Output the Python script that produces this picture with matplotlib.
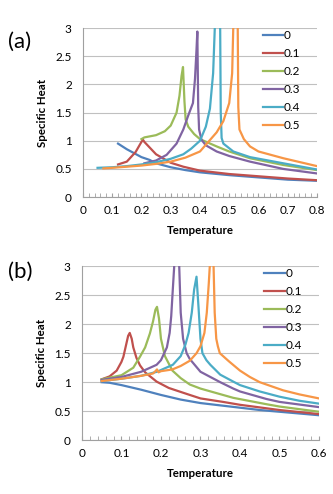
import matplotlib
matplotlib.use("Agg")
import matplotlib.pyplot as plt
from matplotlib.ticker import MultipleLocator

plt.rcParams["font.family"] = ["Lato", "DejaVu Sans"]

LABELS = ["0", "0.1", "0.2", "0.3", "0.4", "0.5"]
COLORS = ["#4F81BD", "#C0504D", "#9BBB59", "#8064A2", "#4BACC6", "#F79646"]

# ---- panel (a) ----
a_T0 = [0.12, 0.15, 0.2, 0.228, 0.25, 0.3, 0.35, 0.4, 0.5, 0.6, 0.7, 0.8]
a_C0 = [0.95, 0.85, 0.71, 0.66, 0.6, 0.53, 0.48, 0.44, 0.39, 0.35, 0.31, 0.29]
a_T1 = [0.12, 0.15, 0.18, 0.2, 0.205, 0.21, 0.23, 0.25, 0.3, 0.343, 0.4, 0.5, 0.6, 0.7, 0.8]
a_C1 = [0.58, 0.63, 0.8, 0.98, 1.02, 0.98, 0.87, 0.76, 0.61, 0.54, 0.47, 0.41, 0.37, 0.33, 0.3]
a_T2 = [0.2, 0.21, 0.25, 0.28, 0.3, 0.32, 0.33, 0.337, 0.342, 0.347, 0.351, 0.36, 0.38,
        0.4, 0.457, 0.5, 0.571, 0.685, 0.8]
a_C2 = [1.03, 1.06, 1.1, 1.17, 1.27, 1.5, 1.8, 2.15, 2.31, 1.7, 1.38, 1.25, 1.12,
        1.03, 0.9, 0.81, 0.69, 0.57, 0.48]
a_T3 = [0.21, 0.25, 0.286, 0.32, 0.343, 0.36, 0.376, 0.383, 0.388, 0.391, 0.394, 0.397,
        0.405, 0.42, 0.457, 0.5, 0.571, 0.685, 0.8]
a_C3 = [0.6, 0.65, 0.75, 0.95, 1.2, 1.45, 1.67, 2.1, 2.6, 2.94, 1.6, 1.2,
        1.02, 0.92, 0.81, 0.73, 0.63, 0.5, 0.42]
a_T4 = [0.05, 0.1, 0.15, 0.2, 0.25, 0.3, 0.343, 0.37, 0.4, 0.42, 0.434, 0.445, 0.451,
        0.46, 0.469, 0.471, 0.474, 0.48, 0.514, 0.571, 0.685, 0.8]
a_C4 = [0.52, 0.53, 0.55, 0.58, 0.62, 0.68, 0.76, 0.86, 1.0, 1.25, 1.57, 2.2, 3.05,
        6.0, 3.05, 1.5, 1.05, 0.95, 0.81, 0.71, 0.6, 0.49]
a_T5 = [0.07, 0.1, 0.15, 0.2, 0.25, 0.3, 0.35, 0.4, 0.457, 0.48, 0.5, 0.51, 0.514, 0.52,
        0.529, 0.531, 0.535, 0.55, 0.571, 0.6, 0.685, 0.8]
a_C5 = [0.51, 0.52, 0.54, 0.56, 0.59, 0.63, 0.7, 0.81, 1.15, 1.35, 1.67, 2.2, 3.05, 6.0,
        3.05, 1.6, 1.2, 1.03, 0.9, 0.81, 0.69, 0.55]

# ---- panel (b) ----
b_T0 = [0.05, 0.07, 0.1, 0.15, 0.2, 0.25, 0.3, 0.35, 0.4, 0.45, 0.5, 0.55, 0.6]
b_C0 = [1.0, 0.99, 0.95, 0.87, 0.78, 0.7, 0.64, 0.6, 0.56, 0.52, 0.49, 0.46, 0.43]
b_T1 = [0.05, 0.07, 0.088, 0.1, 0.105, 0.112, 0.117, 0.121, 0.126, 0.13, 0.138, 0.147,
        0.16, 0.189, 0.22, 0.273, 0.3, 0.357, 0.4, 0.5, 0.6]
b_C1 = [1.05, 1.1, 1.2, 1.35, 1.44, 1.65, 1.8, 1.85, 1.75, 1.6, 1.42, 1.29,
        1.17, 1.01, 0.9, 0.78, 0.72, 0.66, 0.61, 0.52, 0.45]
b_T2 = [0.05, 0.1, 0.13, 0.147, 0.16, 0.172, 0.18, 0.186, 0.19, 0.195, 0.2, 0.21, 0.229,
        0.25, 0.273, 0.3, 0.357, 0.383, 0.467, 0.5, 0.6]
b_C2 = [1.05, 1.12, 1.25, 1.44, 1.6, 1.84, 2.05, 2.25, 2.3, 2.1, 1.75, 1.45, 1.2,
        1.07, 0.96, 0.89, 0.78, 0.73, 0.62, 0.58, 0.49]
b_T3 = [0.05, 0.1, 0.15, 0.189, 0.2, 0.215, 0.222, 0.226, 0.23, 0.234, 0.24, 0.246, 0.25,
        0.256, 0.265, 0.273, 0.3, 0.35, 0.383, 0.4, 0.467, 0.5, 0.6]
b_C3 = [1.04, 1.09, 1.18, 1.3, 1.38, 1.6, 1.85, 2.14, 2.6, 3.05, 6.0, 3.05, 2.2,
        1.75, 1.5, 1.4, 1.18, 1.0, 0.89, 0.84, 0.71, 0.66, 0.57]
b_T4 = [0.05, 0.1, 0.15, 0.19, 0.23, 0.25, 0.262, 0.27, 0.278, 0.284, 0.29, 0.295, 0.3,
        0.305, 0.315, 0.325, 0.35, 0.383, 0.4, 0.45, 0.5, 0.55, 0.6]
b_C4 = [1.02, 1.06, 1.11, 1.18, 1.3, 1.45, 1.65, 1.85, 2.2, 2.6, 2.82, 2.3, 1.75,
        1.5, 1.38, 1.3, 1.13, 1.01, 0.95, 0.84, 0.75, 0.68, 0.63]
b_T5 = [0.05, 0.1, 0.15, 0.18, 0.186, 0.19, 0.194, 0.2, 0.229, 0.25, 0.273, 0.29, 0.3,
        0.31, 0.316, 0.321, 0.324, 0.328, 0.333, 0.336, 0.34, 0.344, 0.349, 0.372, 0.4,
        0.425, 0.45, 0.509, 0.55, 0.6]
b_C5 = [1.02, 1.06, 1.11, 1.15, 1.19, 1.22, 1.17, 1.19, 1.22, 1.28, 1.37, 1.5, 1.62,
        1.85, 2.2, 2.7, 3.05, 6.0, 3.05, 2.2, 1.75, 1.62, 1.5, 1.36, 1.2,
        1.09, 1.0, 0.86, 0.79, 0.72]

panels = [
    ("(a)", [0.249, 0.601, 0.703, 0.342], 0.8, 0.915,
     [(a_T0, a_C0), (a_T1, a_C1), (a_T2, a_C2), (a_T3, a_C3), (a_T4, a_C4), (a_T5, a_C5)]),
    ("(b)", [0.246, 0.109, 0.712, 0.352], 0.6, 0.449,
     [(b_T0, b_C0), (b_T1, b_C1), (b_T2, b_C2), (b_T3, b_C3), (b_T4, b_C4), (b_T5, b_C5)]),
]

fig = plt.figure(figsize=(3.33, 4.94), dpi=100)

for tag, rect, xmax, tag_y, series in panels:
    ax = fig.add_axes(rect)
    for (T, C), lab, col in zip(series, LABELS, COLORS):
        ax.plot(T, C, color=col, lw=1.6, label=lab, solid_joinstyle="round")
    ax.set_xlim(0, xmax)
    ax.set_ylim(0, 3)
    ax.xaxis.set_major_locator(MultipleLocator(0.1))
    ax.xaxis.set_minor_locator(MultipleLocator(0.02))
    ax.yaxis.set_major_locator(MultipleLocator(0.5))
    ax.yaxis.set_major_formatter(plt.FuncFormatter(lambda v, p: f"{v:g}"))
    ax.xaxis.set_major_formatter(plt.FuncFormatter(lambda v, p: f"{v:g}"))
    ax.grid(axis="y", color="#C0C0C0", lw=0.8)
    ax.set_axisbelow(True)
    for s in ("top", "right"):
        ax.spines[s].set_visible(False)
    for s in ("left", "bottom"):
        ax.spines[s].set_color("#A0A0A0")
        ax.spines[s].set_linewidth(0.8)
    ax.tick_params(axis="x", which="both", direction="in", length=3, color="#A0A0A0",
                   labelsize=8.5, pad=6)
    ax.tick_params(axis="y", length=0, labelsize=8.5, pad=8)
    ax.set_xlabel("Temperature", fontsize=8.3, fontweight="bold", labelpad=6)
    ax.set_ylabel("Specific Heat", fontsize=8.3, fontweight="bold", labelpad=5)
    ax.legend(loc="upper left", bbox_to_anchor=(0.77, 0.99), frameon=False,
              fontsize=8.5, handlelength=1.7, handletextpad=0.05, labelspacing=0.6,
              borderpad=0, borderaxespad=0)
    fig.text(0.025, tag_y, tag, fontsize=16, va="center", ha="left")

fig.savefig("out.png", dpi=100)
